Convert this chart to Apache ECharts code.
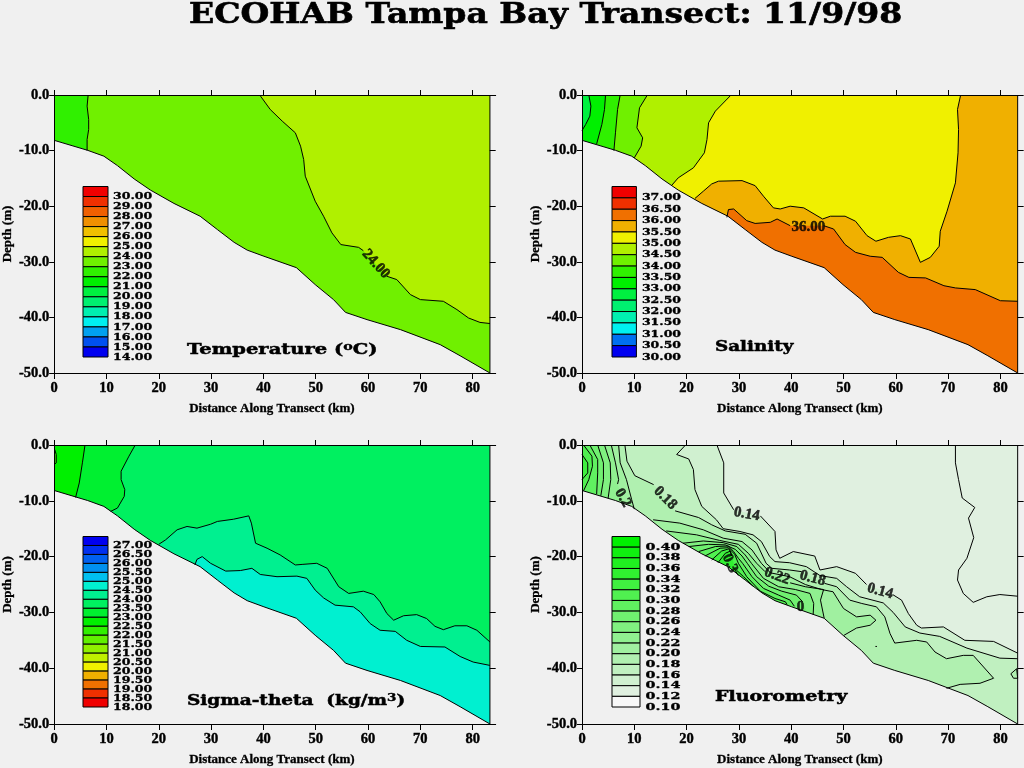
<!DOCTYPE html>
<html lang="en">

<head>
    <meta charset="UTF-8">
    <title>ECOHAB Tampa Bay Transect</title>
    <style>
        html, body { margin: 0; padding: 0; background: #f0f0f0; }
    </style>
</head>

<body>
    <div id="main" style="width: 1024px; height: 768px"></div>
    <script src="https://cdn.jsdelivr.net/npm/echarts@6/dist/echarts.min.js"></script>
    <script type="text/javascript">
        // every contour is a list of [distance km, depth m], GAP is where a label breaks the line
        var GAP = ['-', '-'];
        var distanceTicks = [0, 10, 20, 30, 40, 50, 60, 70, 80];
        var depthTicks = [0, -10, -20, -30, -40, -50];

        var bottomProfile = [[0, -8.15], [6.4, -9.95], [9.5, -11], [12.1, -12.7], [15.3, -15.1], [18.4, -17.1], [22.9, -19.5], [27.9, -21.8], [31.2, -24.2], [34.4, -26.5], [36.9, -27.9], [40.1, -29], [46.3, -31.05], [49.9, -34.1], [53.4, -36.8], [55.7, -39.1], [59.8, -40.4], [66.2, -42.2], [73.8, -44.9], [77.6, -46.9], [83.3, -50]];
        var waterBox = [[0, 0], [83.3, 0], [83.3, -50], [0, -50]];
        var rightEdge = [[83.3, 0], [83.3, -50]];

        // Temperature
        var temp23 = [[6.5, 0], [6.3, -2], [6.6, -4.4], [6.6, -6.2], [6.3, -8], [6.3, -10]];
        var temp24 = [[39.3, 0], [41.3, -2.6], [43.6, -4.7], [46.1, -6.8], [47.1, -9.2], [47.7, -11.6], [48, -14.6], [49.9, -19.1], [51.5, -21.8], [53.1, -24.8], [54.8, -26.9], [58.2, -27.4], [59.1, -28], GAP, [63.6, -32.6], [65.5, -33.2], [68.1, -35.9], [70, -36.8], [74.4, -37.1], [77, -38.6], [79.2, -40.1], [81.4, -40.9], [83.3, -41.1]];
        var tempLevels = [30, 29, 28, 27, 26, 25, 24, 23, 22, 21, 20, 19, 18, 17, 16, 15, 14];
        var tempColors = ['#f00000', '#f03000', '#f06000', '#f09000', '#f0c000', '#f0f000', '#b0f000', '#70f000', '#30f000', '#00f000', '#00f040', '#00f070', '#00f0b0', '#00f0f0', '#00a0f0', '#0050f0', '#0000f0'];

        // Salinity
        var sal1 = [[1.3, 0], [1.7, -2], [1.5, -3.8], [0.7, -5.3], [0, -6.4]];
        var sal2 = [[4.5, 0], [4.3, -2.6], [3.8, -5.3], [2.8, -8.8]];
        var sal3 = [[7.3, 0], [6.8, -2.6], [6.4, -6.8], [6.1, -10]];
        var sal4 = [[12.5, 0], [11, -2.3], [10.5, -5.9], [11.6, -7.7], [11.3, -9.2], [10, -11.3]];
        var sal5 = [[28.5, 0], [25.5, -2.9], [24.2, -5], [23.9, -8], [23.4, -10.4], [21.3, -13.1], [18.4, -14.9], [17.2, -16.2]];
        var sal355 = [[21.6, -18.6], [23.2, -17.3], [24.8, -16], [26.1, -15.5], [30.6, -15.4], [33.1, -16.3], [34.7, -18.2], [36.6, -20.3], [37.9, -20.5], [39.8, -20], [42.4, -20.3], [46, -22.3], [47.5, -21.8], [50.3, -21.8], [52.3, -22.7], [54.5, -25.3], [56.2, -26.3], [58.6, -25.6], [60.9, -25.3], [62.8, -25.9], [64.7, -30.1], [66.6, -29.2], [68.3, -27.2], [68.5, -24.5], [69.8, -20.9], [71.4, -15.8], [71.9, -10.4], [72, -6.2], [71.8, -2.6], [72.4, 0]];
        var sal36 = [[27.7, -22], [28, -20.6], [29, -20.5], [31.5, -22.6], [33.1, -23.1], [36, -22.9], [37.3, -22.3], [39.8, -23.5], GAP, [46.2, -23.5], [48.1, -24.1], [50.3, -26.9], [52.3, -28.3], [55.1, -29], [57.4, -29.2], [60.5, -31.9], [62.5, -32.8], [65.7, -32.9], [69.2, -34.3], [71.4, -34.7], [75.2, -35], [80, -37], [83.3, -37.1]];
        var salLevels = [37, 36.5, 36, 35.5, 35, 34.5, 34, 33.5, 33, 32.5, 32, 31.5, 31, 30.5, 30];
        var salColors = ['#f00000', '#f03000', '#f07000', '#f0b000', '#f0f000', '#b0f000', '#70f000', '#30f000', '#00f000', '#00f040', '#00f070', '#00f0b0', '#00f0f0', '#0070f0', '#0000f0'];

        // Sigma-theta
        var sigA = [[0.1, -0.8], [0.4, -1.7], [0.4, -3.2], [0, -3.5]];
        var sigB = [[5.9, 0], [5.4, -3.2], [4.8, -6.8], [4.1, -9.4]];
        var sigC = [[15.5, 0], [14.3, -2], [12.8, -4.7], [12.8, -6.2], [13.5, -8], [13.4, -9.2], [12.1, -11.3], [10.8, -11.9]];
        var sigD = [[20, -17.8], [21.3, -17], [23.5, -15.2], [25.4, -14.6], [27.3, -14.9], [29.9, -14.2], [31.2, -13.7], [34.3, -13.3], [37.2, -12.7], [37.7, -14], [38.5, -17.6], [40.7, -18.5], [43.2, -19.7], [46.1, -21.5], [47.4, -21.4], [50.2, -21.2], [52.2, -22.1], [54.4, -25.4], [56.3, -26.6], [59.1, -26.2], [61.1, -26.8], [62.3, -28.1], [63.6, -30.2], [64.9, -31.4], [66.8, -30.6], [69.3, -30.4], [71.2, -31.1], [72.8, -32.5], [74.4, -33.1], [76.6, -32.4], [78.9, -32.4], [80.8, -33.2], [83.3, -35.3]];
        var sigE = [[26.9, -21.5], [27.3, -20.5], [28.3, -20], [29.9, -21.2], [32.8, -22.6], [35.6, -22.5], [37.8, -22.1], [39.4, -23.2], [42.6, -23.6], [46.4, -23.5], [48.3, -23.9], [49.9, -26], [51.5, -27.4], [53.7, -28.7], [57.2, -29], [58.5, -29.9], [60.4, -32], [62.3, -33.2], [65.2, -33.4], [67.4, -35], [70, -36.1], [74.7, -36.2], [77.6, -37.9], [80.1, -38.9], [83.3, -39.5]];
        var sigLevels = [27, 26.5, 26, 25.5, 25, 24.5, 24, 23.5, 23, 22.5, 22, 21.5, 21, 20.5, 20, 19.5, 19, 18.5, 18];
        var sigColors = ['#0000f0', '#0030f0', '#0060f0', '#0090f0', '#00c0f0', '#00f0d0', '#00f090', '#00f060', '#00f030', '#00f000', '#30f000', '#60f000', '#90f000', '#c0f000', '#f0f000', '#f0b000', '#f07000', '#f03000', '#f00000'];

        // Fluorometry
        var fl12 = [[71.4, 0], [71.4, -3.2], [72, -6.2], [72.7, -9.5], [75.1, -11.2], [73.9, -13.1], [74.9, -16.6], [73.6, -20.3], [72, -22.4], [71.8, -24.2], [72.9, -26.6], [74.8, -28.2], [77.4, -27.2], [79.9, -26.8], [83.3, -27.1]];
        var fl14 = [[25.8, 0], [27.1, -3.2], [27.1, -8.6], [29, -11.6], GAP, [34.1, -12.7], [36.9, -15.5], [37.1, -18.8], [37.8, -20.3], [40.4, -19.1], [44.5, -19.9], [45.5, -22.4], [48.7, -21.8], [52.3, -23], [54.4, -25], GAP, [59.4, -26.8], [61.1, -27.8], [62.4, -30.2], [64, -32.3], [64.9, -32.8], [69.1, -32.6], [73.2, -35], [78.7, -35.2], [83.3, -37.3]];
        var fl16 = [[19.8, 0], [18.1, -1.7], [20.4, -2.5], [21.3, -4.4], [21.6, -8], [22.9, -11], [25.7, -13.4], [27, -15], [30.2, -15.5], [32.7, -16.1], [34.3, -17.3], [35.9, -20], [36.9, -20.9], [39.7, -21.1], [42.9, -21.8], [45.5, -23.4], [48.7, -23.9], [50.6, -25.4], [53.1, -27.2], [57.6, -28.3], [59.5, -30], [61.8, -32.6], [64.6, -33.7], [68.4, -34.3], [73.6, -36.4], [79.9, -38.2], [83.3, -38.3]];
        var fl18 = [[8.2, 0], [8.6, -2.9], [10.1, -5.5], [13.7, -7.1], GAP, [17.8, -11.8], [22.3, -13], [24.8, -14.3], [27.4, -15.4], [31.2, -16], [33.4, -17.6], [35.2, -21.2], [36.3, -22.1], [39.7, -22.4], [42, -22.7], GAP, [46.4, -24.8], [48.7, -25.4], [51.2, -27.8], [53.5, -28.4], [56.3, -29], [57.9, -30.8], [58.9, -33.8], [59.8, -35.5], [64, -35], [65.9, -35.3], [67.5, -37.1], [69.7, -38.3], [72.9, -37.7], [74.8, -37.7], [78.7, -41.8], [76.1, -42.7], [72.3, -42.9], [69.7, -43.6]];
        var fl18Pocket = [[82, -41], [83.1, -40.1], [83.3, -40.1], [83.3, -41.8], [82.5, -41.8], [82, -41]];
        var fl18Speck = [[56.1, -36.1], [56.4, -36.1]];
        var fl20Left = [[7, 0], [7.3, -3.2], [8.5, -6.2], [9.5, -9.8], [10, -11.5]];
        var fl22Left = [[5.6, 0], [6.4, -3.2], [7, -6.2], [6.8, -7], GAP, [8.2, -10.9]];
        var fl24Left = [[4.3, 0], [5.4, -3.2], [5.5, -6.2], [5, -9.5]];
        var fl26Left = [[3, 0], [4.1, -3.2], [4.1, -6.2], [3.6, -9.1]];
        var fl28Left = [[1.5, 0], [3, -2.6], [3, -5], [2.8, -8.8]];
        var fl30Left = [[0.3, 0], [1.9, -2], [2, -3.8], [1.3, -6.2], [0.3, -8.2]];
        var fl32Left = [[0, -1.7], [1.1, -3.2], [1.1, -5], [0, -6.2]];
        var fl20Mid = [[13.6, -13.4], [18.7, -14], [23.2, -15.2], [27, -16.7], [30.6, -17.3], [32.5, -18.8], [34.3, -21.2], [36, -22.9], [39.7, -23.6], [42.7, -25], [45.8, -25.9], [48, -26.3], [50, -29.3], [52.5, -30.8], [55.1, -30.5], [56.2, -31.4], [55.1, -32.3], [52.5, -32.8], [50.1, -34.1]];
        var fl22Mid = [[16.1, -15.4], [21.9, -16.1], [26.3, -17.1], [29.9, -17.8], [31.8, -19.4], [33.4, -21.2], [35, -22.7], GAP, [39.8, -24.7], [42.7, -25.4], [46.2, -25.9], [45.6, -27.8], [46.3, -31]];
        var fl24Mid = [[19.3, -17.6], [23.2, -17.2], [27, -17.5], [29.6, -18.2], [31.2, -19.7], [32.4, -21.2], [34.7, -23.9], [37.6, -25.4], [40.8, -25.9], [43.6, -26.6], [44.3, -28.4], [44.2, -30.4]];
        var fl26Mid = [[20.4, -18.2], [24.2, -17.8], [27.4, -17.9], [29.3, -18.7], [30.6, -19.9], [31.6, -21.2], [33.4, -23.6], [35.7, -25.3], [38.2, -26.2], [41, -26.9], [42.2, -28.1], GAP, [42.8, -29.5]];
        var fl28Mid = [[22.3, -19.1], [25.5, -18.2], [28, -18.1], [29, -19.1], [29.9, -20.3], [30.7, -21.2], [32.5, -23.6], [34.7, -25.7], [37.6, -26.9], [39.8, -27.8], [40.6, -28.9]];
        var fl30Mid = [[23.5, -19.9], [26.4, -18.5], [28, -18.4], [29.2, -19.6], [29.9, -21.2], [31.5, -23.6], [34.1, -26.2], [36.9, -27.5], [38.9, -28.1], [39.2, -28.6]];
        var fl32Mid = [[24.8, -20.6], [26.7, -19], [28.1, -18.6], [28.6, -19.7], GAP, [29.5, -22.4], [30.9, -23.6], [32.8, -25.4]];
        var fl34Mid = [[26, -21.1], [27.4, -19.4], [28.4, -19], [28.6, -19.9], GAP, [29.2, -22.3], [29.9, -23.4]];
        var flLevels = [0.4, 0.38, 0.36, 0.34, 0.32, 0.3, 0.28, 0.26, 0.24, 0.22, 0.2, 0.18, 0.16, 0.14, 0.12, 0.1];
        var flColors = ['#00f000', '#10f010', '#20f020', '#30f030', '#40f040', '#50f050', '#60f060', '#70f070', '#80f080', '#90f090', '#a0f0a0', '#b0f0b0', '#c0f0c0', '#d0f0d0', '#e0f0e0', '#f8f8f8'];

        // contour labels: place, text, angle
        var tempLabelAt = [[61.5, -30.4]], tempLabelText = ['24.00'], tempLabelAngle = [-48];
        var salLabelAt = [[43.3, -23.8]], salLabelText = ['36.00'], salLabelAngle = [0];
        var flLabelAt = [[31.5, -12.4], [15.9, -9.5], [7.8, -9.5], [28.3, -21.2], [37.3, -23.5], [44.1, -23.9], [41.8, -29], [57, -26.2]];
        var flLabelText = ['0.14', '0.18', '0.2', '0.3', '0.22', '0.18', '0', '0.14'];
        var flLabelAngle = [-10, -45, -60, -65, -20, -15, 0, -15];

        var BG = '#f0f0f0';
        var SERIF = '"Liberation Serif"';
        var WIDE = '"DejaVu Serif"';
        var toBottomLeft = [[0, -50], [0, 0]];
        var toTopLeft = [[0, 0], [0, -50]];
        var toBottomRight = [[83.3, -50], [0, -50]];
        var underBank = [[30, -50]];
        var underFan = [[0, -15], [0, 0]];

        var grid = [], xAxis = [], yAxis = [], series = [];

        function solid(pts) {
            return pts.filter(function(p) { return p !== GAP; });
        }

        function polygon(xi, yi, pts, fill, z) {
            series.push({
                type: 'custom',
                xAxisIndex: xi,
                yAxisIndex: yi,
                z: z,
                silent: true,
                clip: false,
                encode: { x: 0, y: 1 },
                data: pts,
                renderItem: function(params, api) {
                    if (params.dataIndex !== 0) return null;
                    return {
                        type: 'polygon',
                        shape: { points: pts.map(function(p) { return api.coord(p); }) },
                        style: { fill: fill }
                    };
                }
            });
        }

        function line(xi, yi, pts) {
            series.push({
                type: 'line',
                xAxisIndex: xi,
                yAxisIndex: yi,
                z: 4,
                silent: true,
                clip: false,
                showSymbol: false,
                symbol: 'none',
                lineStyle: { color: '#000', width: 1 },
                data: pts
            });
        }

        function addPanel(cfg) {
            var xi = xAxis.length, yi = yAxis.length, gi = grid.length;
            var lineStyle = { color: '#000', width: 1 };
            var tickFont = { fontFamily: SERIF, fontWeight: 'bold', fontSize: 14.5, color: '#000', textBorderColor: '#000', textBorderWidth: 0.4 };
            var nameFont = { fontFamily: SERIF, fontWeight: 'bold', fontSize: 13, color: '#000', textBorderColor: '#000', textBorderWidth: 0.3 };
            grid.push({ left: cfg.left, top: cfg.top, width: cfg.xMax * cfg.pxPerKm, height: cfg.height });
            xAxis.push({
                type: 'value', gridIndex: gi, min: 0, max: cfg.xMax, position: 'bottom', z: 10,
                name: 'Distance Along Transect (km)', nameLocation: 'middle', nameGap: 29,
                nameTextStyle: Object.assign({ padding: cfg.namePadding }, nameFont),
                axisLine: { onZero: false, lineStyle: lineStyle },
                axisTick: { length: 6, customValues: distanceTicks, lineStyle: lineStyle },
                axisLabel: Object.assign({ margin: 8, customValues: distanceTicks }, tickFont),
                splitLine: { show: false }
            }, {
                type: 'value', gridIndex: gi, min: 0, max: cfg.xMax, position: 'top', z: 10,
                axisLine: { onZero: false, lineStyle: lineStyle },
                axisTick: { length: 5, customValues: distanceTicks, lineStyle: lineStyle },
                axisLabel: { show: false },
                splitLine: { show: false }
            });
            yAxis.push({
                type: 'value', gridIndex: gi, min: -50, max: 0, interval: 10, position: 'left', z: 10,
                name: 'Depth (m)', nameLocation: 'middle', nameGap: 40,
                nameTextStyle: nameFont,
                axisLine: { onZero: false, lineStyle: lineStyle },
                axisTick: { length: 5, customValues: depthTicks, lineStyle: lineStyle },
                axisLabel: Object.assign({
                    margin: 5,
                    customValues: depthTicks,
                    formatter: function(v) { return v.toFixed(1); }
                }, tickFont),
                splitLine: { show: false }
            }, {
                type: 'value', gridIndex: gi, min: -50, max: 0, interval: 10, position: 'right', z: 10,
                axisLine: { show: false, onZero: false },
                axisTick: { length: 6, inside: cfg.ticksInside, customValues: depthTicks, lineStyle: lineStyle },
                axisLabel: { show: false },
                splitLine: { show: false }
            });

            // fills painted back to front, the sea bed then hides what is under it
            cfg.fills.forEach(function(f) {
                polygon(xi, yi, solid(f[1]), f[0], 2);
            });
            polygon(xi, yi, bottomProfile.concat([[0, -50]]), BG, 3);
            cfg.lines.forEach(function(pts) { line(xi, yi, pts); });
            line(xi, yi, bottomProfile);
            line(xi, yi, rightEdge);

            series.push({
                type: 'scatter',
                xAxisIndex: xi,
                yAxisIndex: yi,
                z: 5,
                silent: true,
                symbolSize: 0,
                data: cfg.labelAt.map(function(p, i) {
                    return {
                        value: p,
                        label: {
                            show: true, position: 'inside', formatter: cfg.labelText[i], rotate: cfg.labelAngle[i],
                            fontFamily: SERIF, fontWeight: 'bold', fontSize: 15, color: '#000',
                            textBorderColor: '#000', textBorderWidth: 0.5
                        }
                    };
                })
            });

            // colour key: its own little grid, labels sit on the level boundaries
            var lxi = xAxis.length, lyi = yAxis.length, lgi = grid.length;
            var lastLevel = cfg.levels.length - 1;
            var step = +(cfg.levels[lastLevel - 1] - cfg.levels[lastLevel]).toFixed(2);
            grid.push({ left: cfg.left + 30, top: cfg.top + 91.5, width: cfg.keyWidth, height: 170.5, z: 6 });
            xAxis.push({ type: 'value', gridIndex: lgi, min: 0, max: 1, show: false });
            yAxis.push({
                type: 'value', gridIndex: lgi, show: false,
                min: cfg.levels[lastLevel], max: +(cfg.levels[0] + step).toFixed(2)
            });
            series.push({
                type: 'custom',
                xAxisIndex: lxi,
                yAxisIndex: lyi,
                z: 6,
                silent: true,
                clip: false,
                encode: { x: -1, y: 0 },
                data: cfg.levels,
                renderItem: function(params, api) {
                    var lo = api.value(0);
                    var a = api.coord([0, lo + step]), b = api.coord([1, lo]);
                    return {
                        type: 'group',
                        children: [{
                            type: 'rect',
                            shape: { x: a[0], y: a[1], width: b[0] - a[0], height: b[1] - a[1] },
                            style: { fill: cfg.colors[params.dataIndex], stroke: '#000', lineWidth: 1 }
                        }, {
                            type: 'text',
                            x: b[0] + cfg.keyMargin,
                            y: b[1],
                            scaleX: cfg.keyScale,
                            style: {
                                text: lo.toFixed(2), fill: '#000', stroke: '#000', lineWidth: 0.35,
                                verticalAlign: 'middle', align: 'left',
                                font: 'bold 10px ' + WIDE
                            }
                        }]
                    };
                }
            });
        }

        addPanel({
            left: 53, top: 95, height: 278, pxPerKm: 5.245, xMax: 84.4, ticksInside: true, namePadding: [0, 6, 0, 0],
            keyWidth: 25, keyMargin: 5, keyScale: 1.25,
            levels: tempLevels, colors: tempColors,
            fills: [
                ['#70f000', waterBox],
                ['#b0f000', temp24.concat([[83.3, 0]])],
                ['#30f000', temp23.concat(toBottomLeft)]
            ],
            lines: [temp23, temp24],
            labelAt: tempLabelAt, labelText: tempLabelText, labelAngle: tempLabelAngle
        });
        addPanel({
            left: 582, top: 95, height: 278, pxPerKm: 5.23, xMax: 83.3, ticksInside: false, namePadding: 0,
            keyWidth: 24.4, keyMargin: 5.5, keyScale: 1.25,
            levels: salLevels, colors: salColors,
            fills: [
                ['#f0b000', waterBox],
                ['#f0f000', sal355.concat(toTopLeft)],
                ['#f07000', sal36.concat(toBottomRight)],
                ['#b0f000', sal5.concat(toBottomLeft)],
                ['#70f000', sal4.concat(toBottomLeft)],
                ['#30f000', sal3.concat(toBottomLeft)],
                ['#00f000', sal2.concat(toBottomLeft)],
                ['#00f040', sal1.concat([[0, 0]])]
            ],
            lines: [sal1, sal2, sal3, sal4, sal5, sal355, sal36],
            labelAt: salLabelAt, labelText: salLabelText, labelAngle: salLabelAngle
        });
        addPanel({
            left: 53, top: 445, height: 279, pxPerKm: 5.245, xMax: 84.4, ticksInside: true, namePadding: [0, 6, 0, 0],
            keyWidth: 25, keyMargin: 5, keyScale: 1.25,
            levels: sigLevels, colors: sigColors,
            fills: [
                ['#00f060', waterBox],
                ['#00f090', sigD.concat(toBottomRight)],
                ['#00f0d0', sigE.concat(toBottomRight)],
                ['#00f030', sigC.concat(toBottomLeft)],
                ['#00f000', sigB.concat(toBottomLeft)],
                ['#30f000', sigA.concat([[0, -0.8]])]
            ],
            lines: [sigA, sigB, sigC, sigD, sigE],
            labelAt: [], labelText: [], labelAngle: []
        });
        addPanel({
            left: 582, top: 445, height: 279, pxPerKm: 5.23, xMax: 83.3, ticksInside: false, namePadding: 0,
            keyWidth: 28, keyMargin: 5.5, keyScale: 1.43,
            levels: flLevels, colors: flColors,
            fills: [
                ['#e0f0e0', waterBox],
                ['#d0f0d0', fl14.concat([[83.3, -50], [0, -50], [0, 0]])],
                ['#c0f0c0', fl16.concat([[83.3, -50], [0, -50], [0, 0]])],
                ['#b0f0b0', fl18.concat(toBottomLeft)],
                ['#b0f0b0', fl18Pocket],
                ['#a0f0a0', fl20Left.concat(underFan)],
                ['#90f090', fl22Left.concat(underFan)],
                ['#80f080', fl24Left.concat(underFan)],
                ['#70f070', fl26Left.concat(underFan)],
                ['#60f060', fl28Left.concat(underFan)],
                ['#50f050', fl30Left.concat(underFan)],
                ['#40f040', fl32Left],
                ['#a0f0a0', fl20Mid.concat(underBank)],
                ['#90f090', fl22Mid.concat(underBank)],
                ['#80f080', fl24Mid.concat(underBank)],
                ['#70f070', fl26Mid.concat(underBank)],
                ['#60f060', fl28Mid.concat(underBank)],
                ['#50f050', fl30Mid.concat(underBank)],
                ['#40f040', fl32Mid.concat(underBank)],
                ['#30f030', fl34Mid.concat(underBank)]
            ],
            lines: [fl12, fl14, fl16, fl18, fl18Pocket, fl18Speck, fl20Left, fl22Left, fl24Left, fl26Left, fl28Left, fl30Left, fl32Left, fl20Mid, fl22Mid, fl24Mid, fl26Mid, fl28Mid, fl30Mid, fl32Mid, fl34Mid],
            labelAt: flLabelAt, labelText: flLabelText, labelAngle: flLabelAngle
        });

        var nameRich = {
            a: { fontFamily: WIDE, fontWeight: 'bold', fontSize: 15, fill: '#000', stroke: '#000', lineWidth: 0.5 },
            s: { fontFamily: WIDE, fontWeight: 'bold', fontSize: 11, fill: '#000', stroke: '#000', lineWidth: 0.4, verticalAlign: 'top', padding: [0, 0, 6, 0] }
        };
        function panelName(text, x, y, scale) {
            return {
                type: 'text', x: x, y: y, scaleX: scale, z: 20, silent: true,
                style: { text: text, rich: nameRich, verticalAlign: 'middle', align: 'left', fill: '#000' }
            };
        }

        var myChart = echarts.init(document.getElementById('main'), null, { renderer: 'canvas' });
        myChart.setOption({
            backgroundColor: BG,
            animation: false,
            grid: grid,
            xAxis: xAxis,
            yAxis: yAxis,
            series: series,
            graphic: [
                {
                    type: 'text', x: 189, y: 16, scaleX: 1.18, z: 20, silent: true,
                    style: {
                        text: 'ECOHAB Tampa Bay Transect: 11/9/98', fill: '#000', stroke: '#000', lineWidth: 0.6,
                        verticalAlign: 'middle', align: 'left',
                        font: 'bold 28px ' + WIDE
                    }
                },
                panelName('{a|Temperature (}{s|o}{a|C)}', 187, 350, 1.3),
                panelName('{a|Salinity}', 715, 347, 1.22),
                panelName('{a|Sigma-theta  (kg/m}{s|3}{a|)}', 187, 701, 1.23),
                panelName('{a|Fluorometry}', 715, 697, 1.27)
            ]
        });
    </script>
</body>

</html>
